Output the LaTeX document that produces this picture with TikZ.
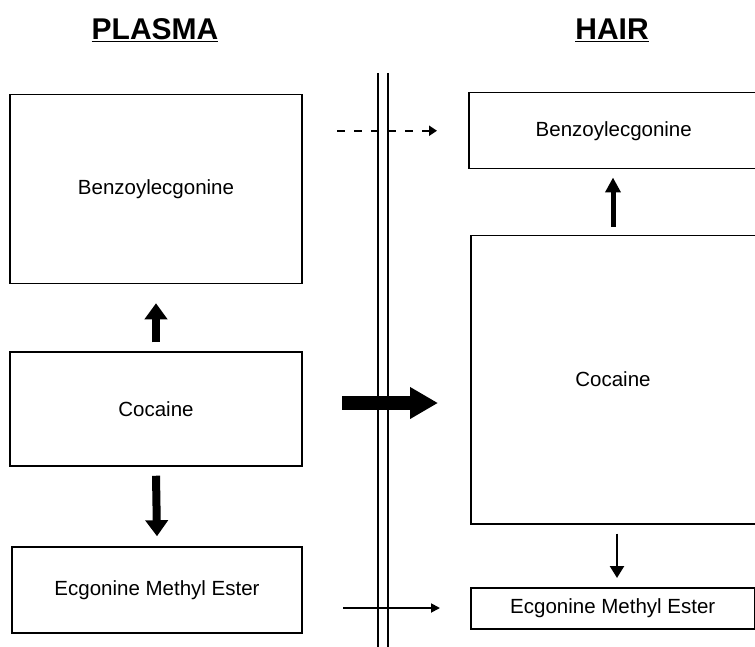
\documentclass[tikz,border=0pt]{standalone}
\usepackage{fontspec}
\setmainfont{Liberation Sans}
\usetikzlibrary{arrows.meta}
\begin{document}
\begin{tikzpicture}[x=1pt,y=-1pt,
  box/.style={draw, line width=1.5pt, inner sep=0pt, font=\fontsize{20.5}{24}\selectfont},
  title/.style={font=\fontsize{30}{34}\selectfont\bfseries},
  fatarrow/.style={line width=8pt, -{Triangle[length=16pt, width=22pt]}},
  midarrow/.style={line width=5pt, -{Triangle[length=15pt, width=15pt]}},
  thinarrow/.style={line width=2.4pt, -{Triangle[length=12pt, width=14pt]}},
  hairline/.style={line width=1.8pt, -{Triangle[length=9pt, width=9pt]}}
]
\useasboundingbox (0,0) rectangle (755,647);
% titles
\node[title] (plasma) at (155,30) {\underline{PLASMA}};
\node[title] (hair) at (612,30) {\underline{HAIR}};
% barrier
\coordinate (b1t) at (378,73); \coordinate (b1b) at (378,647);
\coordinate (b2t) at (388,73); \coordinate (b2b) at (388,647);
\draw[line width=1.7pt] (b1t) -- (b1b);
\draw[line width=1.7pt] (b2t) -- (b2b);
% left boxes
\node[box, minimum width=292pt, minimum height=189pt] (lbenz) at (156,189) {Benzoylecgonine};
\node[box, minimum width=292pt, minimum height=114pt] (lcoc) at (156,409) {Cocaine};
\node[box, minimum width=290pt, minimum height=86pt] (lecg) at (157,590) {Ecgonine Methyl Ester};
% right boxes
\node[box, minimum width=290pt, minimum height=76pt, anchor=north west] (rbenz) at (468,92) {Benzoylecgonine};
\node[box, minimum width=300pt, minimum height=288pt, anchor=north west] (rcoc) at (470,235) {};
\node[font=\fontsize{20.5}{24}\selectfont] (rcoctext) at (613,379) {Cocaine};
\node[box, minimum width=284pt, minimum height=41pt, anchor=north west] (recg) at (470,587) {Ecgonine Methyl Ester};
% vertical arrows
\draw[fatarrow] ([yshift=9pt]lcoc.north) -- ([yshift=-19pt]lbenz.south);
\draw[fatarrow] ([yshift=-9pt]lcoc.south) -- ([yshift=10pt]lecg.north);
\draw[midarrow] ([yshift=8pt]rcoc.north -| 613,0) -- ([yshift=-8pt]rbenz.south -| 613,0);
\draw[thinarrow] ([yshift=-9pt]rcoc.south -| 617,0) -- ([yshift=9pt]recg.north -| 617,0);
% horizontal arrows
\coordinate (dstart) at (337,0);
\coordinate (dend) at (437,0);
\draw[line width=2pt, dash pattern=on 8pt off 9pt, -{Triangle[length=8pt,width=10pt]}] (dstart |- rbenz.west) -- (dend |- rbenz.west);
\coordinate (bstart) at (342,403);
\coordinate (bend) at (438,403);
\draw[line width=14pt, -{Triangle[length=28pt,width=30pt]}] (bstart) -- (bend);
\coordinate (tstart) at (343,608);
\coordinate (tend) at (440,608);
\draw[hairline] (tstart) -- (tend);
\end{tikzpicture}
\end{document}
